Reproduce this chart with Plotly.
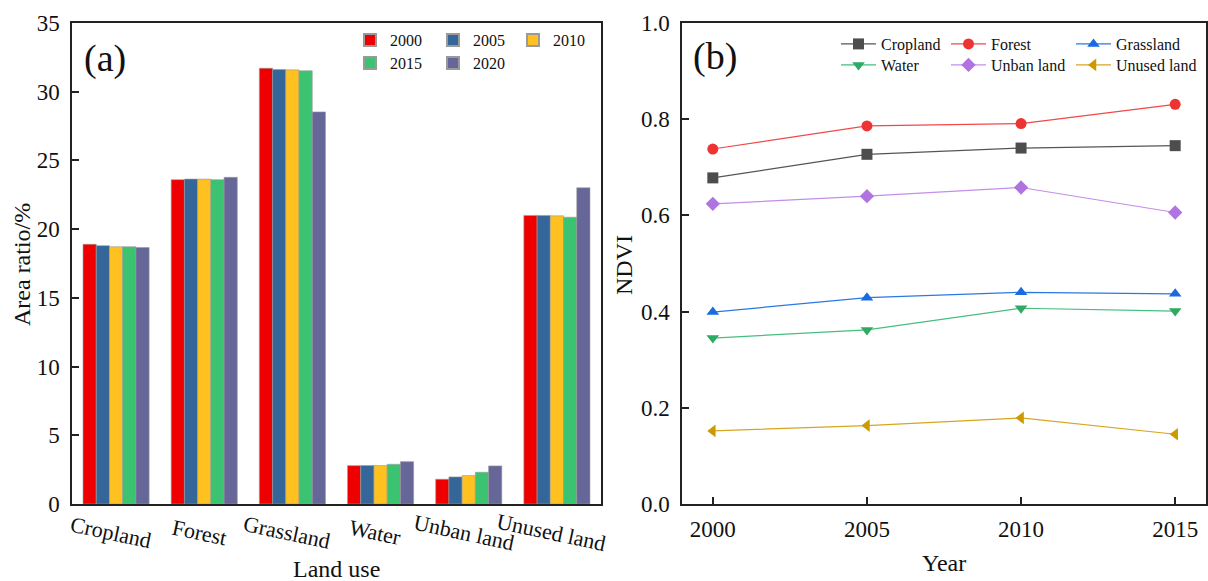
import plotly.graph_objects as go

# ---------- data ----------
land_use = ["Cropland", "Forest", "Grassland", "Water", "Unban land", "Unused land"]
bar_years = ["2000", "2005", "2010", "2015", "2020"]
area_2000 = [18.9, 23.6, 31.71, 2.79, 1.80, 21.0]
area_2005 = [18.8, 23.64, 31.61, 2.80, 1.97, 21.0]
area_2010 = [18.72, 23.64, 31.59, 2.80, 2.07, 20.97]
area_2015 = [18.72, 23.6, 31.52, 2.89, 2.31, 20.87]
area_2020 = [18.66, 23.77, 28.53, 3.08, 2.77, 23.01]
bar_colors = ["#EE0000", "#34669A", "#FFC11F", "#3CC372", "#676699"]

ndvi_years = [2000, 2005, 2010, 2015]
ndvi_cropland = [0.678, 0.727, 0.740, 0.745]
ndvi_forest = [0.738, 0.786, 0.791, 0.831]
ndvi_grassland = [0.399, 0.429, 0.440, 0.437]
ndvi_water = [0.345, 0.362, 0.407, 0.401]
ndvi_unban = [0.624, 0.640, 0.658, 0.606]
ndvi_unused = [0.152, 0.163, 0.179, 0.145]
line_names = ["Cropland", "Forest", "Grassland", "Water", "Unban land", "Unused land"]
line_colors = ["#555555", "#F24848", "#2A78E4", "#45BE7E", "#C38EEA", "#D8A520"]
marker_colors = ["#4D4D4D", "#EE3333", "#1A6AE0", "#2EAA62", "#B074E0", "#CC9900"]
marker_symbols = ["square", "circle", "triangle-up", "triangle-down", "diamond", "triangle-left"]

W, H = 1208, 581
FONT = "Liberation Serif"

def px(x):
    return x / W

def py(y):
    return 1 - y / H

fig = go.Figure()

# legend slot for each entry: (left x of legend box, top y of legend box) in pixels
bar_leg_pos = [(350, 23), (433, 23), (513, 23), (350, 46), (433, 46)]
line_leg_pos = [(836, 27), (946, 27), (1071, 27), (836, 48), (946, 48), (1071, 48)]

area_series = [area_2000, area_2005, area_2010, area_2015, area_2020]
legend_layout = {}
n = 2
for i, (yr, vals) in enumerate(zip(bar_years, area_series)):
    lname = f"legend{n}"
    fig.add_trace(go.Bar(
        x=land_use, y=vals, name=yr, xaxis="x", yaxis="y",
        marker=dict(color=bar_colors[i], line=dict(color="#9a9a9a", width=0.6)),
        legend=lname, showlegend=True,
    ))
    legend_layout[lname] = dict(x=px(bar_leg_pos[i][0]), y=py(bar_leg_pos[i][1]),
                                itemsizing="constant")
    n += 1

ndvi_series = [ndvi_cropland, ndvi_forest, ndvi_grassland, ndvi_water, ndvi_unban, ndvi_unused]
for i, vals in enumerate(ndvi_series):
    lname = f"legend{n}"
    fig.add_trace(go.Scatter(
        x=ndvi_years, y=vals, name=line_names[i], mode="lines+markers",
        xaxis="x2", yaxis="y2",
        line=dict(color=line_colors[i], width=1.2),
        marker=dict(color=marker_colors[i], symbol=marker_symbols[i], size=11),
        legend=lname, showlegend=True,
    ))
    legend_layout[lname] = dict(x=px(line_leg_pos[i][0]), y=py(line_leg_pos[i][1]), itemwidth=35)
    n += 1

axis_line = dict(showline=True, linecolor="#222222", linewidth=1.5, mirror=True,
                 showgrid=False, zeroline=False, automargin=False)
tickfont = dict(family=FONT, size=23, color="#111111")

x_dom_a = [px(72), px(601)]
x_dom_b = [px(682), px(1206)]
y_dom = [py(504), py(23)]

fig.update_layout(
    width=W, height=H,
    margin=dict(l=0, r=0, t=0, b=0),
    showlegend=True,
    paper_bgcolor="white", plot_bgcolor="white",
    font=dict(family=FONT, color="#111111"),
    barmode="group", bargap=0.25, bargroupgap=0,
    xaxis=dict(domain=x_dom_a, anchor="y", range=[-0.5, 5.5], showticklabels=False,
               ticks="", **axis_line),
    yaxis=dict(domain=y_dom, anchor="x", range=[0, 35], tickvals=[0, 5, 10, 15, 20, 25, 30, 35],
               ticks="inside", ticklen=7, tickwidth=1.5, tickcolor="#222222",
               ticklabelstandoff=6, tickfont=tickfont, **axis_line),
    xaxis2=dict(domain=x_dom_b, anchor="y2", range=[1999, 2016], tickvals=ndvi_years,
                ticks="inside", ticklen=7, tickwidth=1.5, tickcolor="#222222",
                ticklabelstandoff=4, tickfont=tickfont, **axis_line),
    yaxis2=dict(domain=y_dom, anchor="x2", range=[0, 1.0], tickvals=[0, 0.2, 0.4, 0.6, 0.8, 1.0],
                tickformat=".1f", ticks="inside", ticklen=7, tickwidth=1.5, tickcolor="#222222",
                ticklabelstandoff=6, tickfont=tickfont, **axis_line),
)

leg_common = dict(orientation="v", bgcolor="rgba(0,0,0,0)", font=dict(family=FONT, size=16),
                  xanchor="left", yanchor="top", tracegroupgap=0)
fig.update_layout({k: dict(**v, **leg_common) for k, v in legend_layout.items()})

annotations = []
for cat in land_use:
    annotations.append(dict(x=cat, y=0, xref="x", yref="y domain", text=cat, showarrow=False,
                            textangle=12, xanchor="center", yanchor="middle",
                            xshift=-5, yshift=-28, font=dict(family=FONT, size=22)))
titles = [
    ("Area ratio/%", px(22), py(265), -90, 24),
    ("NDVI", px(624), py(265), -90, 24),
    ("Land use", px(336), py(569), 0, 24),
    ("Year", px(944), py(563), 0, 24),
]
for text, x, y, ang, size in titles:
    annotations.append(dict(x=x, y=y, xref="paper", yref="paper", text=text, showarrow=False,
                            textangle=ang, xanchor="center", yanchor="middle",
                            font=dict(family=FONT, size=size)))
annotations.append(dict(x=px(82), y=py(58), xref="paper", yref="paper", text="(a)",
                        showarrow=False, xanchor="left", yanchor="middle",
                        font=dict(family=FONT, size=38)))
annotations.append(dict(x=px(691), y=py(57), xref="paper", yref="paper", text="(b)",
                        showarrow=False, xanchor="left", yanchor="middle",
                        font=dict(family=FONT, size=38)))
fig.update_layout(annotations=annotations)

fig.write_html("out.html", config={"displayModeBar": False},
               post_script="document.body.style.margin='0';document.body.style.overflow='hidden';")
